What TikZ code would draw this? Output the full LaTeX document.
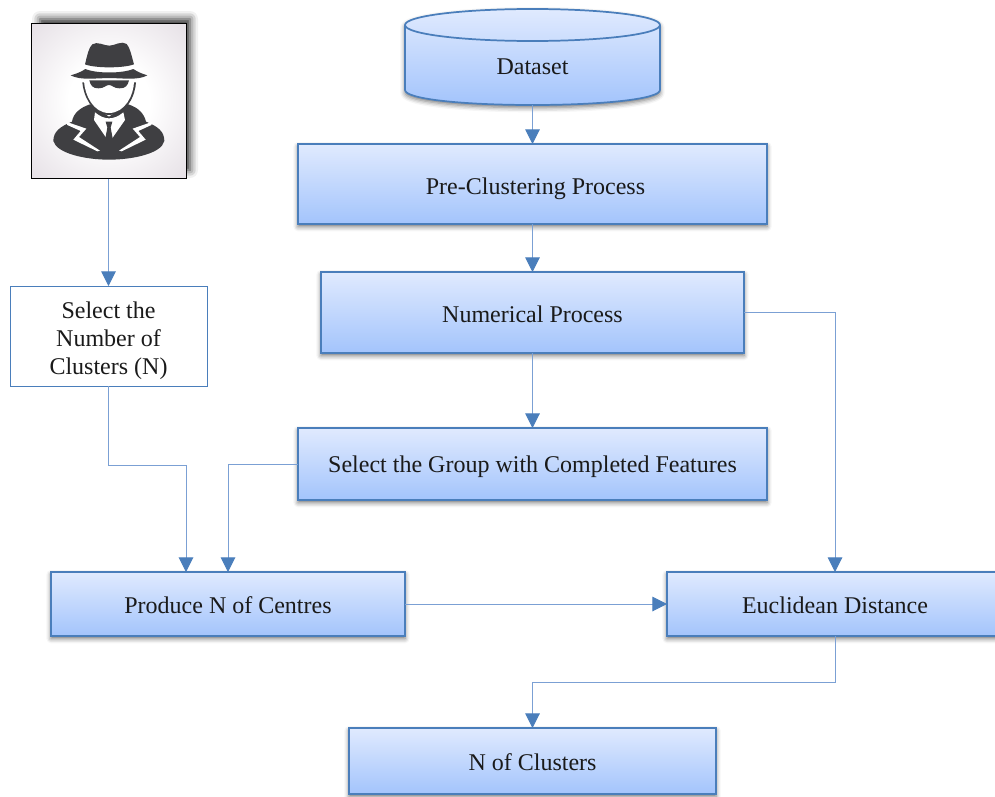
\documentclass[tikz,border=0pt]{standalone}
\usepackage{fontspec}
\setmainfont{Liberation Serif}
\usetikzlibrary{arrows.meta,shadings,shadows.blur,calc}
\definecolor{edgeblue}{HTML}{4A7EBB}
\definecolor{linkblue}{HTML}{7BA0D4}
\definecolor{topblue}{HTML}{E0EAFE}
\definecolor{botblue}{HTML}{A3C4FC}
\definecolor{inkdark}{HTML}{3F3F42}
\definecolor{txt}{HTML}{1A1A1A}
\pgfdeclareradialshading{iconbg}{\pgfpoint{0bp}{0bp}}{rgb(0bp)=(1,1,1);rgb(13bp)=(1,1,1);rgb(38bp)=(0.89,0.865,0.89);rgb(50bp)=(0.89,0.865,0.89)}
\tikzset{
  softshadow/.style={blur shadow={shadow xshift=0pt,shadow yshift=-2pt,shadow blur radius=3.5pt,shadow opacity=55}},
  box/.style={draw=edgeblue,line width=1.3pt,top color=topblue,bottom color=botblue,middle color=topblue!50!botblue,
    softshadow,text=txt,align=center,inner sep=0pt,outer sep=0pt,text depth=0pt,font=\fontsize{18}{21}\selectfont},
  plainbox/.style={draw=edgeblue,line width=0.6pt,fill=white,text=txt,align=center,inner sep=0pt,outer sep=0pt,font=\fontsize{18}{21}\selectfont},
  link/.style={draw=linkblue,line width=0.75pt,-{Triangle[length=11pt,width=11pt,color=edgeblue]}},
  glyph/.style={fill=inkdark,draw=none},
  gap/.style={fill=white,draw=none},
}
\begin{document}
\begin{tikzpicture}[x=0.75pt,y=-0.75pt]
\clip (0,0) rectangle (995,796);
\useasboundingbox (0,0) rectangle (995,796);
% icon shadow
\path[blur shadow={shadow xshift=0pt,shadow yshift=0pt,shadow blur radius=6pt,shadow opacity=85}] (40,19) rectangle (190,170);
% icon
\node[draw=black,line width=0.7pt,shading=iconbg,minimum width=116.5pt,minimum height=116.5pt,inner sep=0pt,outer sep=0pt] (icon) at (109,101) {};
\begin{scope}[shift={(10,5)},x=0.25pt,y=-0.25pt]
  \path[glyph] (225,178) .. controls (232,150) and (236,128) .. (247,118) .. controls (262,108) and (282,122) .. (298,122) .. controls (314,122) and (335,106) .. (350,117) .. controls (360,128) and (364,150) .. (372,178) .. controls (340,190) and (255,190) .. (225,178) -- cycle;
  \path[glyph] (182,211) .. controls (200,206) and (215,200) .. (226,192) .. controls (260,206) and (335,206) .. (370,192) .. controls (382,200) and (395,206) .. (412,211) .. controls (385,226) and (345,220) .. (298,219) .. controls (250,220) and (210,226) .. (182,211) -- cycle;
  % body
  \path[glyph] (130,408) .. controls (130,380) and (150,365) .. (186,350) .. controls (190,325) and (210,308) .. (240,298) -- (297,335) -- (355,298) .. controls (385,308) and (402,325) .. (408,350) .. controls (445,365) and (463,380) .. (463,408) .. controls (455,445) and (370,464) .. (297,464) .. controls (225,464) and (140,445) .. (130,408) -- cycle;
  % head
  \path[glyph] (217,232) .. controls (220,270) and (244,328) .. (297,330) .. controls (352,328) and (376,270) .. (378,232) -- cycle;
  \path[gap] (222,228) -- (372,228) .. controls (372,270) and (345,324) .. (297,324) .. controls (250,324) and (224,270) .. (222,228) -- cycle;
  % glasses
  \path[glyph] (238,226) -- (357,226) .. controls (354,240) and (347,251) .. (328,250) .. controls (312,250) and (306,240) .. (297,240) .. controls (288,240) and (282,250) .. (266,250) .. controls (248,251) and (241,240) .. (238,226) -- cycle;
  % shirt
  \path[gap] (255,322) .. controls (270,335) and (285,340) .. (297,340) .. controls (310,340) and (325,335) .. (340,322) -- (345,345) -- (298,412) -- (252,345) -- cycle;
  \path[glyph] (287,350) -- (307,350) -- (302,368) -- (309,405) -- (297,421) -- (285,405) -- (292,368) -- cycle;
  % lapels
  \path[gap] (168,350) -- (229,371) -- (207,396) -- (270,437) -- (262,439) -- (190,404) -- (212,378) -- (172,360) -- cycle;
  \path[gap] (428,350) -- (368,371) -- (390,396) -- (327,437) -- (335,439) -- (407,404) -- (385,378) -- (424,360) -- cycle;
\end{scope}
% cylinder
\path[draw=edgeblue,line width=1.3pt,top color=topblue,bottom color=botblue,middle color=topblue!50!botblue,softshadow]
  (405,25) -- (405,90) .. controls (405,99) and (462,105) .. (532.5,105) .. controls (603,105) and (660,99) .. (660,90) -- (660,25)
  .. controls (660,16) and (603,9) .. (532.5,9) .. controls (462,9) and (405,16) .. (405,25) -- cycle;
\draw[edgeblue,line width=1.3pt] (405,25) .. controls (405,34) and (462,41) .. (532.5,41) .. controls (603,41) and (660,34) .. (660,25);
\node[inner sep=0pt,outer sep=0pt,minimum width=191.25pt,minimum height=72pt] (ds) at (532.5,57) {};
\node[text=txt,inner sep=0pt,font=\fontsize{18}{21}\selectfont] (dstext) at (532.5,66.5) {Dataset};
% boxes
\node[box,text height=15.9pt,minimum width=351.75pt,minimum height=60pt] (pre) at (532.5,184) {\hspace*{4.5pt}Pre-Clustering Process};
\node[box,text height=14.9pt,minimum width=317.25pt,minimum height=60.75pt] (num) at (532.5,312.5) {Numerical Process};
\node[box,text height=12.6pt,minimum width=351.75pt,minimum height=54pt] (grp) at (532.5,464) {Select the Group with Completed Features};
\node[box,text height=14pt,minimum width=265.5pt,minimum height=48pt] (prod) at (228,604) {Produce N of Centres};
\node[box,text height=14pt,minimum width=252pt,minimum height=48pt] (euc) at (835,604) {Euclidean Distance};
\node[box,text height=14pt,minimum width=275.25pt,minimum height=49.5pt] (ncl) at (532.5,761) {N of Clusters};
\node[plainbox,minimum width=147.75pt,minimum height=75pt] (sel) at (108.5,336) {\rule{0pt}{19.5pt}Select the\\Number of\\Clusters (N)};
% helper coordinates
\coordinate (prodA) at (186,572);
\coordinate (bendA) at (108.5,465);
\coordinate (bendB) at (532.5,682);
% connectors
\draw[link] (ds.south) -- (pre.north);
\draw[link] (pre.south) -- (num.north);
\draw[link] (num.south) -- (grp.north);
\draw[link] (icon.south-|sel.north) -- (sel.north);
\draw[link] (sel.south) -- (bendA) -| (prodA);
\draw[link] (grp.west) -| (prod.north);
\draw[link] (num.east) -| (euc.north);
\draw[link] (prod.east) -- (euc.west);
\draw[link] (euc.south) |- (bendB) -- (ncl.north);
\end{tikzpicture}
\end{document}
